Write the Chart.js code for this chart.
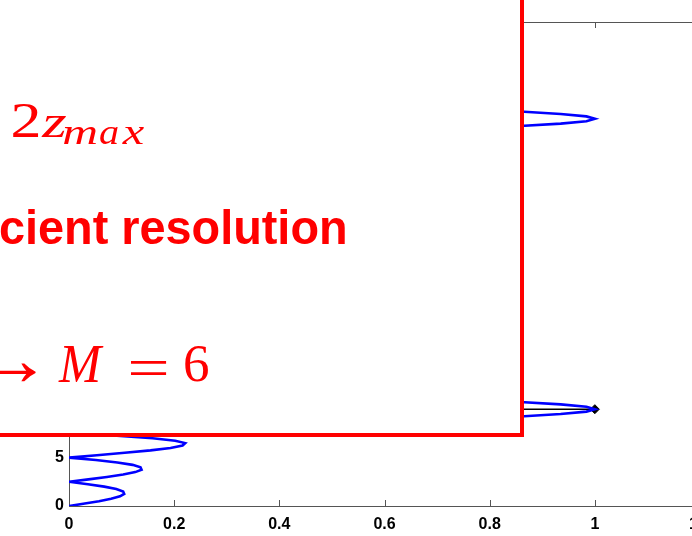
<!DOCTYPE html>
<html><head><meta charset="utf-8">
<script src="https://cdn.jsdelivr.net/npm/chart.js@4.4.1/dist/chart.umd.min.js"></script>
<style>
html,body{margin:0;padding:0;overflow:hidden;background:#fff}
#wrap{position:relative;width:692px;height:536px;overflow:hidden;background:#fff}
canvas{position:absolute;left:0;top:0}
</style>
</head><body><div id="wrap"><canvas id="c" width="760" height="536"></canvas></div>
<script>
// depth axis (vertical) and response amplitude (horizontal)
const depth = [
  0,0.25,0.5,0.75,1,1.25,1.5,1.75,2,2.25,2.5,2.75,3,3.25,3.5,3.75,4,4.25,4.5,4.75,
  5,5.25,5.5,5.75,6,6.25,6.5,6.75,7,7.25,7.5,7.75,8,8.25,8.5,8.75,9,9.25,9.5,9.75,
  10,10.25,10.5,10.75,11,11.25,11.5,11.75,12,12.25,12.5,
  13.75,15,16.25,17.5,18.75,20,21.25,22.5,23.75,25,26.25,27.5,28.75,30,31.25,32.5,33.75,35,36.25,37.5,
  37.75,38,38.25,38.5,38.75,39,39.25,39.5,39.75,40,40.25,40.5,40.75,41,41.25,41.5,41.75,42,42.25,42.5,
  43.75,45,46.25,47.5,48.75,50
];
const amplitude = [
  0,0.030,0.057,0.080,0.097,0.105,0.103,0.090,0.067,0.036,0,0.037,0.072,0.103,0.126,0.138,0.136,0.121,0.092,0.051,
  0,0.053,0.106,0.155,0.193,0.216,0.221,0.202,0.159,0.091,0,0.109,0.234,0.368,0.505,0.637,0.757,0.858,0.935,0.984,
  1,0.984,0.935,0.858,0.757,0.637,0.505,0.368,0.234,0.109,0,
  0.212,0,0.128,0,0.092,0,0.072,0,0.062,0,0.062,0,0.072,0,0.092,0,0.128,0,0.212,0,
  0.109,0.234,0.368,0.505,0.637,0.757,0.858,0.935,0.984,1,0.984,0.935,0.858,0.757,0.637,0.505,0.368,0.234,0.109,0,
  0.212,0,0.128,0,0.092,0
];
const stemDepth = [10, 10];
const stemAmp = [0, 1];
const xTicks = [0, 0.2, 0.4, 0.6, 0.8, 1, 1.2];
const xTickLabels = ['0', '0.2', '0.4', '0.6', '0.8', '1', '1.2'];
const yTicks = [0, 5, 10, 15, 20, 25, 30, 35, 40, 45, 50];
const yTickLabels = ['0', '5', '10', '15', '20', '25', '30', '35', '40', '45', '50'];

const curve = depth.map((d, i) => ({x: amplitude[i], y: d}));
const stem = stemDepth.map((d, i) => ({x: stemAmp[i], y: d}));

function fitBox(ctx, str, font, l, r, t, b) {
  ctx.save();
  ctx.font = font;
  ctx.textAlign = 'left';
  ctx.textBaseline = 'alphabetic';
  const m = ctx.measureText(str);
  const w = m.actualBoundingBoxLeft + m.actualBoundingBoxRight;
  const h = m.actualBoundingBoxAscent + m.actualBoundingBoxDescent;
  const sx = (r - l) / w, sy = (b - t) / h;
  ctx.translate(l, t);
  ctx.scale(sx, sy);
  ctx.fillText(str, m.actualBoundingBoxLeft, m.actualBoundingBoxAscent);
  ctx.restore();
}

const framePlugin = {
  id: 'frame',
  beforeDatasetsDraw(chart) {
    const ctx = chart.ctx;
    const {left, right, top, bottom} = chart.chartArea;
    const xs = chart.scales.x, ys = chart.scales.y;
    ctx.save();
    ctx.strokeStyle = '#555';
    ctx.lineWidth = 1;
    ctx.beginPath();
    ctx.rect(Math.round(left) + 0.5, Math.round(top) + 0.5, Math.round(right - left), Math.round(bottom - top));
    const tl = 6;
    xTicks.forEach(v => {
      const px = Math.round(xs.getPixelForValue(v)) + 0.5;
      ctx.moveTo(px, bottom); ctx.lineTo(px, bottom - tl);
      ctx.moveTo(px, top); ctx.lineTo(px, top + tl);
    });
    yTicks.forEach(v => {
      const py = Math.round(ys.getPixelForValue(v)) + 0.5;
      ctx.moveTo(left, py); ctx.lineTo(left + tl, py);
      ctx.moveTo(right, py); ctx.lineTo(right - tl, py);
    });
    ctx.stroke();
    ctx.restore();
  },
  afterDraw(chart) {
    const ctx = chart.ctx;
    ctx.save();
    // overlay box
    ctx.fillStyle = '#fff';
    ctx.fillRect(-20, -20, 542, 455);
    ctx.strokeStyle = '#ff0000';
    ctx.lineWidth = 4;
    ctx.strokeRect(-20, -20, 542, 455);
    ctx.fillStyle = '#ff0000';
    const serif = '"Liberation Serif", "DejaVu Serif", serif';
    fitBox(ctx, '2', '50px ' + serif, 13, 39, 103, 136.5);
    fitBox(ctx, 'z', 'italic 46px ' + serif, 41, 67, 115, 136.5);
    fitBox(ctx, 'm', 'italic 37px ' + serif, 63.5, 97, 126.5, 143.5);
    fitBox(ctx, 'a', 'italic 37px ' + serif, 100, 118.5, 126.5, 143.5);
    fitBox(ctx, 'x', 'italic 37px ' + serif, 121.5, 145, 126.5, 143.5);
    fitBox(ctx, 'cient resolution', 'bold 45px "Liberation Sans", Arial, sans-serif', 0, 345, 209, 243.5);
    fitBox(ctx, '\u2192', '53px ' + serif, -16, 37, 362, 382);
    fitBox(ctx, 'M', 'italic 56px ' + serif, 58, 104, 344, 381.5);
    fitBox(ctx, '=', '53px ' + serif, 130, 167, 361.8, 375.6);
    fitBox(ctx, '6', '53px ' + serif, 185, 208, 345.8, 381.8);
    ctx.restore();
  }
};

new Chart(document.getElementById('c'), {
  type: 'scatter',
  data: {
    datasets: [
      {
        data: curve, showLine: true, borderColor: '#0000ff', borderWidth: 2.6,
        pointRadius: 0, tension: 0, fill: false
      },
      {
        data: stem, showLine: true, borderColor: '#000', borderWidth: 1.5,
        pointRadius: [0, 4.5], pointStyle: 'rectRot', pointBackgroundColor: '#000',
        pointBorderColor: '#000', pointBorderWidth: 1
      }
    ]
  },
  options: {
    responsive: false,
    animation: false,
    devicePixelRatio: 1,
    layout: {padding: {left: 0, top: 22, right: 60, bottom: 0}},
    plugins: {legend: {display: false}, tooltip: {enabled: false}},
    scales: {
      x: {
        type: 'linear', min: 0, max: 1.2,
        afterFit(s) { s.height = 30; },
        afterBuildTicks(s) { s.ticks = xTicks.map(v => ({value: v})); },
        grid: {display: false, drawTicks: false},
        border: {display: false},
        ticks: {
          padding: 9, color: '#000', maxRotation: 0, autoSkip: false,
          font: {family: '"Liberation Sans", Arial, sans-serif', size: 16, weight: 'bold'},
          callback: (v) => xTickLabels[xTicks.indexOf(v)]
        }
      },
      y: {
        type: 'linear', min: 0, max: 50,
        afterFit(s) { s.width = 69; },
        afterBuildTicks(s) { s.ticks = yTicks.map(v => ({value: v})); },
        grid: {display: false, drawTicks: false},
        border: {display: false},
        ticks: {
          padding: 5, color: '#000', autoSkip: false,
          font: {family: '"Liberation Sans", Arial, sans-serif', size: 16, weight: 'bold'},
          callback: (v) => yTickLabels[yTicks.indexOf(v)]
        }
      }
    }
  },
  plugins: [framePlugin]
});
</script>
</body></html>
